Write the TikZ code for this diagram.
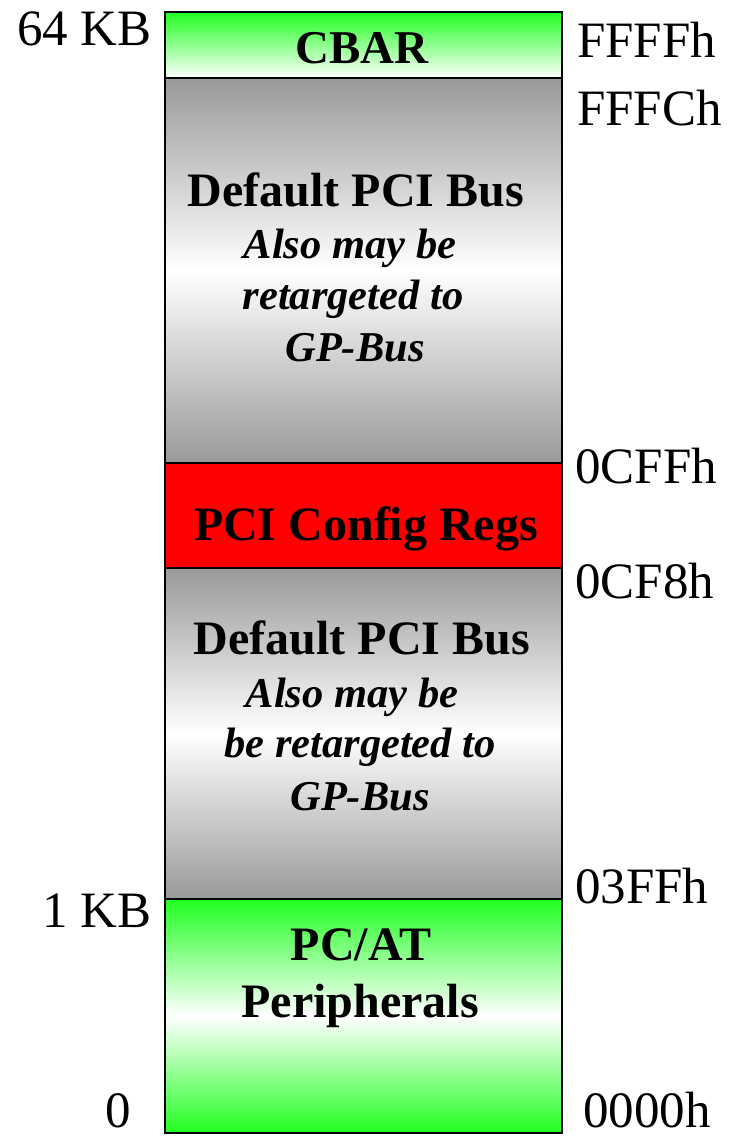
\documentclass[tikz,border=0pt]{standalone}
\usepackage{fontspec}
\setmainfont{Liberation Serif}
\definecolor{brgreen}{RGB}{32,255,32}
\definecolor{midgray}{RGB}{153,153,153}
\definecolor{brred}{RGB}{255,0,0}
\begin{document}
\begin{tikzpicture}[x=1pt,y=-1pt,
  blockline/.style={draw=black,line width=2.5pt},
  addr/.style={inner sep=0pt,font=\fontsize{51}{51}\selectfont},
  title/.style={inner sep=0pt,anchor=base,font=\fontsize{48}{48}\selectfont\bfseries},
  note/.style={inner sep=0pt,anchor=base,font=\fontsize{42.5}{42.5}\selectfont\bfseries\itshape}]
\useasboundingbox (0,0) rectangle (733,1136);
% blocks
\path[shading=axis,top color=brgreen,bottom color=white] (165,12) rectangle (562,78);
\path[shading=axis,top color=midgray,bottom color=midgray,middle color=white] (165,78) rectangle (562,463);
\fill[brred] (165,463) rectangle (562,568);
\path[shading=axis,top color=midgray,bottom color=midgray,middle color=white] (165,568) rectangle (562,899);
\path[shading=axis,top color=brgreen,bottom color=brgreen,middle color=white] (165,899) rectangle (562,1133);
\draw[blockline] (165,12) rectangle (562,78);
\draw[blockline] (165,78) rectangle (562,463);
\draw[blockline] (165,463) rectangle (562,568);
\draw[blockline] (165,568) rectangle (562,899);
\draw[blockline] (165,899) rectangle (562,1133);
% block texts
\node[title,font=\fontsize{47}{47}\selectfont\bfseries] (cbar) at (362,63) {CBAR};
\node[title] (pci1) at (356,206) {Default PCI Bus};
\node[note] (n1a) at (350,258) {Also may be};
\node[note] (n1b) at (353,309) {retargeted to};
\node[note] (n1c) at (355,361) {GP-Bus};
\node[title] (cfg) at (366,540) {PCI Config Regs};
\node[title] (pci2) at (362,654) {Default PCI Bus};
\node[note] (n2a) at (352,707) {Also may be};
\node[note] (n2b) at (360,757) {be retargeted to};
\node[note] (n2c) at (360,810) {GP-Bus};
\node[title] (pcat) at (361,960) {PC/AT};
\node[title] (periph) at (360,1017) {Peripherals};
% left labels
\node[addr,anchor=base east] (k64) at (152,45) {64 KB};
\node[addr,anchor=base east] (k1) at (152,927) {1 KB};
\node[addr,anchor=base] (k0) at (118,1127) {0};
% right labels
\node[addr,anchor=base west] (aFFFF) at (577,57) {FFFFh};
\node[addr,anchor=base west] (aFFFC) at (577,125) {FFFCh};
\node[addr,anchor=base west] (a0CFF) at (575,483) {0CFFh};
\node[addr,anchor=base west] (a0CF8) at (575,598) {0CF8h};
\node[addr,anchor=base west] (a03FF) at (575,903) {03FFh};
\node[addr,anchor=base west] (a0000) at (583,1127) {0000h};
\end{tikzpicture}
\end{document}
